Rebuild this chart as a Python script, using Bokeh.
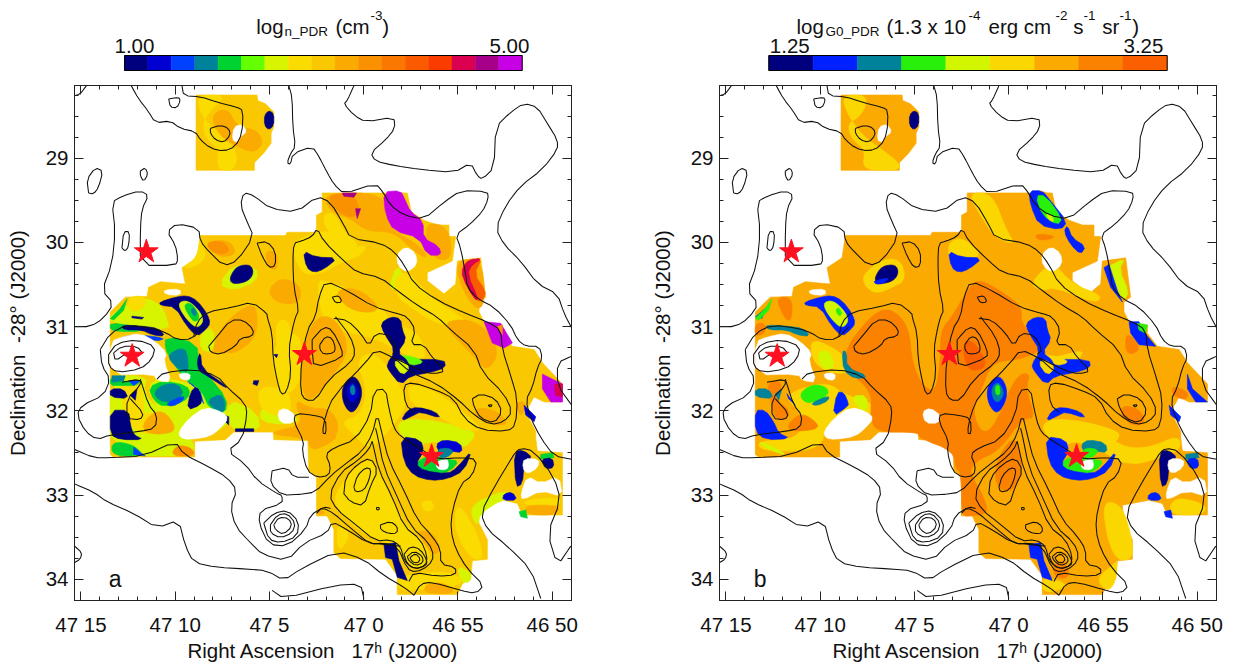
from bokeh.plotting import figure
from bokeh.layouts import column, row
from bokeh.models import Range1d, Label, LinearAxis, FixedTicker
from bokeh.core.properties import value
from bokeh.embed import file_html
from bokeh.resources import INLINE

# ---- colour levels (colour tables of the two maps)
n_bar_colors = ["#00007f", "#0000d2", "#0040ff", "#00829b", "#00d232", "#64ff00", "#d7f500", "#fadc00", "#fac800",
                "#faaa00", "#fa9100", "#fa7800", "#fa5a00", "#fa3c00", "#dc0050", "#a50087", "#c800e6"]
g_bar_colors = ["#00007f", "#0020ff", "#00829b", "#28f00a", "#d2f500", "#fad700", "#faaa00", "#fa8200", "#fa5f00"]
NAVY, BLUE, BRIGHT, TEAL, GREEN, LIME, YG, YEL, GOLD, OY, ORG, DORG, RORG, RED, CRIM, PURP, MAG = n_bar_colors
G_NAVY, G_BLUE, G_TEAL, G_GREEN, G_YG, G_YEL, G_OY, G_ORG, G_DORG = g_bar_colors

# ---- map outline and features, in map pixel columns/rows (converted to RA/Dec by the map's WCS below)
top_block = [(407,283),(590,283),(592,300),(615,310),(640,335),(640,380),(632,400),(632,430),(610,460),(582,490),(582,513),(407,513)]
footprint = [(785,582),(1040,582),(1052,640),(1090,665),(1130,680),(1165,680),(1165,715),(1185,715),(1175,790),(1100,825),(1100,850),(1150,890),
 (1185,860),(1190,790),(1260,780),(1275,900),(1255,915),(1255,945),(1270,975),(1325,985),(1325,1010),(1355,1050),(1420,1060),(1445,1100),
 (1505,1165),(1505,1220),(1450,1220),(1420,1205),(1395,1250),(1425,1310),(1425,1330),(1430,1370),(1505,1375),(1505,1565),(1385,1565),(1370,1530),
 (1330,1520),(1250,1535),(1255,1590),(1280,1640),(1280,1700),(1235,1705),(1230,1760),(1205,1775),(1190,1808),(1010,1808),(1010,1750),(975,1700),
 (840,1698),(820,1680),(820,1610),(800,1568),(768,1568),(768,1450),(745,1430),(742,1338),(640,1335),(638,1312),(520,1312),(495,1335),(403,1340),
 (403,1388),(160,1388),(150,1380),(150,945),(195,900),(260,898),(265,870),(300,853),(375,860),(365,810),(410,780),(420,712),(675,712),(680,702),
 (768,702),(768,650),(785,640)]

# sub-images of the map: columns/rows counted from the corner of each part
def W(pts):
    return [(x + 120, y + 870) for x, y in pts]
def C(pts):
    return [(x + 600, y + 960) for x, y in pts]
def S(pts):
    return [(x + 720, y + 1320) for x, y in pts]

# holes
hole_top = [(520,380),(545,372),(560,395),(540,410),(530,428),(515,420)]
hole_ring = [(1008,770),(1035,745),(1065,765),(1070,800),(1040,825),(1012,805)]
hole_star = W([(30,165),(70,150),(120,140),(165,165),(200,200),(190,225),(215,290),(170,285),(160,265),(30,268)])
hole_mid = W([(235,262),(270,262),(268,285),(240,280)])
hole_nw = W([(190,8),(240,5),(240,25),(195,22)])
hole_south = W([(235,440),(265,400),(315,365),(365,380),(385,400),(360,430),(330,455),(270,465),(240,460)])
hole_small = C([(50,290),(75,278),(105,300),(100,325),(60,325)])
hole_starb = S([(405,85),(440,70),(445,100),(430,108),(410,105)])
hole_east1 = S([(670,72),(715,75),(712,100),(680,120),(665,100)])
hole_east2 = S([(680,125),(720,150),(775,125),(785,190),(720,170),(665,200),(660,180)])

# features seen in both maps
spot_top = [(612,345),(625,330),(640,340),(640,375),(625,390),(612,375)]
spot_one = [(510,835),(530,805),(570,800),(580,825),(565,850),(530,860),(510,855)]
hat_outer = [(728,758),(765,778),(832,780),(790,815),(760,825),(738,810)]
ring_outer = W([(178,45),(225,30),(260,25),(290,40),(320,80),(330,110),(315,130),(290,150),(260,120),(225,60),(180,55)])
ring_inner = W([(235,45),(265,40),(300,75),(310,105),(290,125),(265,105),(240,70)])
ring_core = W([(250,55),(270,45),(295,80),(295,100),(280,105),(265,85)])
ring_eye = W([(270,70),(280,60),(290,80),(282,90)])
snake = C([(360,20),(390,0),(420,5),(425,40),(437,70),(410,110),(440,130),(550,130),(555,155),(510,170),(450,180),(420,208),(385,165),(378,145),(405,105),(370,50)])
snake_in = C([(398,140),(420,130),(450,155),(425,180)])
snake_top = C([(420,115),(470,125),(490,140),(450,150),(435,125)])
oval = C([(243,225),(260,190),(285,180),(305,220),(300,260),(275,298),(250,270)])
oval_in = C([(255,225),(275,195),(295,225),(290,250),(270,265)])
oval_core = C([(268,215),(280,205),(285,235),(272,240)])
star_cres = S([(300,5),(360,15),(370,50),(345,90),(370,110),(440,120),(470,100),(515,45),(490,110),(440,135),(390,140),(340,125),(310,85)])
star_up = S([(405,30),(430,15),(480,25),(485,55),(450,50),(420,60)])
star_green = S([(345,85),(380,65),(440,75),(475,80),(450,110),(400,125),(365,110)])
star_teal = S([(410,45),(440,40),(460,50),(440,70),(415,70)])
star_glow = C([(410,330),(440,310),(540,320),(640,350),(640,370),(610,400),(580,385),(500,380),(470,400),(420,360)])
band_north = C([(420,320),(440,285),(470,275),(525,290),(540,310),(480,290),(460,300)])
north_patch = [(968,578),(1020,575),(1032,600),(1050,640),(1088,668),(1088,720),(1135,745),(1142,772),(1100,772),(1075,718),(1000,698),(975,650)]
east_red = [(1225,790),(1265,780),(1240,830),(1275,880),(1270,905),(1250,915),(1215,850)]
east_crim = [(1205,810),(1225,785),(1265,782),(1235,800),(1220,830),(1255,910),(1240,905),(1205,840)]
ne_corner = C([(670,15),(720,20),(755,80),(730,95),(695,80)])
ne_red = C([(710,30),(725,25),(725,55)])
se_corner = [(1445,1135),(1505,1165),(1505,1220),(1470,1220),(1445,1180)]
se_red = [(1480,1165),(1505,1165),(1505,1205),(1485,1200)]
sliver = [(1390,1230),(1425,1265),(1420,1280),(1395,1260)]
east_block = S([(640,50),(670,48),(695,70),(670,90),(665,150),(645,160)])
east_spot = S([(720,75),(755,70),(760,100),(735,105)])
east_green = S([(720,60),(755,55),(760,70),(720,75)])
east_low = S([(610,180),(635,175),(650,200),(605,200)])
east_tip = S([(655,235),(675,230),(680,255),(660,250)])
lower_spot = S([(250,335),(285,330),(295,385),(320,445),(290,435),(275,380),(255,375)])
nw_sliver = W([(30,95),(60,65),(80,35),(70,70),(40,100)])
north_sliver = [(885,630),(900,630),(890,660)]
north_top = [(845,582),(888,582),(880,595),(850,592)]
w_navy_a = W([(30,375),(85,375),(90,420),(100,450),(130,465),(60,465),(30,450)])
w_navy_b = W([(30,310),(70,310),(85,340),(30,335)])
w_navy_c = W([(90,330),(110,310),(105,345)])
w_arc = W([(65,115),(120,118),(175,125),(195,150),(155,145),(125,130),(70,130)])
w_core = W([(260,375),(270,320),(290,300),(305,340),(300,360)])
w_edge = W([(290,225),(300,195),(305,250),(370,295),(380,310),(320,270),(295,255)])
w_spots = [W([(460,285),(475,285),(470,300),(458,295)]), W([(520,205),(532,205),(528,215)]), W([(370,390),(385,395),(385,420),(375,410)]),
           W([(405,432),(460,432),(460,440),(405,440)]), W([(95,88),(130,92),(125,97),(95,93)])]

# density map levels
n_yg = [W([(30,270),(140,270),(130,320),(170,370),(230,390),(240,440),(280,470),(280,515),(30,515)]),
        W([(140,300),(190,270),(370,330),(390,440),(230,440),(170,370)]),
        W([(30,85),(90,50),(135,30),(190,60),(210,140),(30,108)]),
        W([(380,340),(470,380),(480,440),(385,440)]),
        W([(300,140),(340,120),(340,200),(300,190)]),
        C([(0,280),(50,270),(120,310),(80,330),(0,320)]),
        C([(40,100),(90,130),(95,170),(50,190),(40,130)]),
        [(985,870),(1010,800),(1030,840),(1010,880)],
        [(475,860),(520,800),(590,810),(590,850),(520,880)],
        star_glow,
        S([(520,215),(540,200),(610,170),(650,190),(600,200),(540,240),(530,280),(510,240)]),
        S([(470,400),(510,420),(510,450),(480,450)])]
n_yellow = [[(407,283),(500,283),(450,330),(425,370),(440,420),(475,445),(470,513),(525,513),(530,450),(475,400),(425,350)],
            [(690,735),(770,700),(810,700),(870,750),(920,740),(905,770),(850,790),(780,830),(720,830)],
            [(785,650),(820,640),(850,700),(900,745),(860,745),(800,700)],
            [(1000,840),(1040,820),(1110,900),(1200,960),(1250,1000),(1120,980),(1050,930),(1010,900)],
            [(770,850),(795,850),(880,880),(960,930),(1000,980),(1080,1010),(1100,1110),(990,1050),(930,1020),(820,1000),(780,950)],
            S([(90,190),(200,60),(240,120),(300,260),(390,350),(380,410),(310,400),(270,330),(200,310),(130,250)]),
            C([(285,130),(345,105),(420,210),(440,270),(400,330),(330,410),(280,360),(240,320),(300,300),(320,220)]),
            C([(440,200),(530,230),(620,300),(670,350),(600,345),(530,300),(450,270)]),
            [(630,1060),(690,1010),(720,1020),(730,1130),(690,1200),(650,1180)],
            S([(470,200),(530,300),(550,380),(510,380),(460,290)]),
            S([(290,440),(350,420),(460,420),(500,460),(290,480)]),
            S([(110,270),(150,300),(125,350),(110,340)]),
            S([(360,205),(395,200),(400,230),(370,235)]),
            S([(675,200),(770,190),(785,215),(670,215)]),
            [(420,712),(440,780),(400,810),(365,810),(410,780)],
            W([(60,290),(120,285),(130,345),(130,390),(165,375),(170,440),(120,450),(75,400),(65,340)]),
            W([(470,300),(570,310),(570,400),(480,380)]),
            W([(525,100),(570,100),(570,200),(530,200)]),
            W([(80,30),(135,25),(135,60),(90,80)])]
n_oy = [[(450,345),(500,320),(530,380),(590,390),(610,430),(580,460),(530,440),(480,410)],
        [(440,730),(505,725),(530,765),(490,780),(450,760)],
        [(612,760),(650,760),(650,820),(625,810)],
        [(785,582),(968,582),(975,660),(1000,700),(1075,740),(1105,785),(1060,760),(1000,700),(920,700),(870,660),(810,640)],
        [(1090,670),(1165,685),(1175,790),(1110,780)],
        [(1180,790),(1260,780),(1275,900),(1255,945),(1210,890)],
        C([(560,10),(650,10),(720,100),(680,170),(640,120),(560,40)]),
        [(620,880),(660,840),(720,860),(720,920),(650,920)],
        [(820,880),(890,870),(960,930),(930,950),(860,935)],
        W([(370,110),(440,55),(470,60),(470,150),(410,200),(370,200),(330,200)]),
        C([(160,0),(225,0),(270,100),(210,190),(150,260),(125,230),(120,120)]),
        C([(100,250),(150,280),(210,280),(240,340),(200,400),(130,370),(40,360),(40,350),(130,330)]),
        S([(350,290),(400,300),(420,350),(400,370),(370,330)]),
        S([(375,455),(430,450),(470,485),(370,485)]),
        S([(20,0),(120,0),(80,30),(30,50)]),
        S([(50,225),(80,240),(50,245)]),
        S([(670,215),(775,215),(770,245),(680,245)]),
        [(1230,1240),(1300,1240),(1350,1290),(1280,1290)],
        [(1360,1220),(1400,1220),(1380,1270)],
        W([(130,410),(170,375),(205,390),(230,440),(170,450),(130,440)])]
n_org = [[(800,585),(880,585),(900,640),(870,660),(820,630)],
         [(440,730),(490,730),(510,760),(480,770),(445,755)],
         W([(210,515),(230,480),(275,490),(285,515)])]
n_west = [(W([(35,470),(100,480),(130,515),(35,515)]), GREEN, 2),
          (W([(100,488),(135,515),(100,510)]), BRIGHT, 0),
          (W([(195,150),(290,170),(295,235),(320,265),(380,340),(375,385),(330,375),(300,310),(255,285),(215,225),(195,190)]), GREEN, 1),
          (W([(145,305),(190,285),(260,300),(270,325),(250,350),(190,365),(160,345)]), GREEN, 1),
          (W([(205,205),(240,185),(260,195),(265,260),(235,250),(210,225)]), TEAL, 1),
          (W([(160,320),(190,295),(235,295),(250,330),(210,352),(175,345)]), TEAL, 1),
          (W([(195,355),(250,330),(250,345),(215,365)]), BRIGHT, 1),
          (W([(320,345),(360,325),(375,350),(370,385),(340,370)]), TEAL, 1),
          (W([(265,290),(300,320),(310,355),(300,335),(280,300)]), BRIGHT, 0),
          (W([(30,108),(100,118),(125,135),(60,135),(30,130)]), GREEN, 1),
          (W([(40,170),(70,150),(120,145),(195,155),(170,165),(120,150),(70,160)]), BRIGHT, 1),
          (W([(30,275),(65,272),(70,290),(120,285),(110,300),(60,300),(30,300)]), GREEN, 1),
          (W([(35,270),(75,270),(70,285),(35,290)]), TEAL, 0),
          (W([(85,285),(120,285),(100,300)]), BRIGHT, 0)]

def smooth(pts, n=2):
    out = pts
    for _ in range(n):
        new = []
        for i in range(len(out)):
            a, b = out[i], out[(i + 1) % len(out)]
            new.append((.75*a[0]+.25*b[0], .75*a[1]+.25*b[1]))
            new.append((.25*a[0]+.75*b[0], .25*a[1]+.75*b[1]))
        out = new
    return out

def smooth_open(pts, n=2):
    out = pts
    for _ in range(n):
        new = [out[0]]
        for a, b in zip(out[:-1], out[1:]):
            new.append((.75*a[0]+.25*b[0], .75*a[1]+.25*b[1]))
            new.append((.25*a[0]+.75*b[0], .25*a[1]+.75*b[1]))
        new.append(out[-1])
        out = new
    return out

density_layers = [(footprint, GOLD, 0), (top_block, GOLD, 0)]
density_layers += [(s, YG, 1) for s in n_yg] + [(s, YEL, 2) for s in n_yellow] + [(s, OY, 2) for s in n_oy] + [(s, ORG, 2) for s in n_org]
density_layers += [(north_patch, MAG, 1), (north_top, PURP, 0), (north_sliver, PURP, 0), (east_red, RORG, 1), (east_crim, CRIM, 1), (ne_corner, MAG, 0), (ne_red, ORG, 0), (se_corner, MAG, 0), (se_red, CRIM, 0)]
density_layers += n_west
density_layers += [(spot_top, NAVY, 1), (spot_one, NAVY, 2), (hat_outer, NAVY, 1), (ring_outer, NAVY, 1), (ring_inner, YG, 2), (ring_core, GREEN, 2), (ring_eye, TEAL, 2),
                   (snake, NAVY, 1), (snake_in, YG, 1), (snake_top, LIME, 1), (oval, NAVY, 2), (oval_in, BLUE, 2), (oval_core, TEAL, 1),
                   (w_navy_a, NAVY, 1), (w_navy_b, NAVY, 1), (w_navy_c, NAVY, 0), (w_arc, NAVY, 1), (w_core, NAVY, 1), (w_edge, NAVY, 1), (nw_sliver, GREEN, 0)]
density_layers += [(s, NAVY, 0) for s in w_spots]
density_layers += [(band_north, NAVY, 1), (sliver, BLUE, 0), (east_block, NAVY, 1), (east_green, GREEN, 0), (east_spot, NAVY, 1), (east_low, BLUE, 1), (east_tip, GREEN, 0), (lower_spot, NAVY, 0),
                   (star_green, GREEN, 1), (star_cres, NAVY, 1), (star_up, BLUE, 1), (star_teal, TEAL, 1)]

# radiation field map levels
g_yellow = [[(407,283),(490,283),(470,345),(425,370),(440,420),(480,450),(470,513),(582,513),(582,490),(530,450),(475,410),(430,350)],
            [(470,830),(540,780),(590,790),(600,850),(560,870),(515,890),(480,870)],
            [(785,582),(860,582),(900,690),(930,740),(870,720),(830,660)],
            [(725,735),(770,715),(830,770),(790,790),(735,800)],
            [(970,860),(1040,790),(1100,860),(1190,895),(1170,920),(1050,870),(1010,880)],
            S([(670,215),(700,190),(785,215),(770,245),(680,245)]),
            [(1190,1520),(1250,1535),(1280,1640),(1280,1700),(1235,1705),(1205,1640)],
            star_glow,
            [(1130,1300),(1200,1320),(1260,1360),(1330,1360),(1420,1320),(1425,1370),(1330,1400),(1290,1410),(1230,1400),(1195,1370),(1080,1330)],
            [(1230,1710),(1235,1705),(1230,1770),(1205,1800),(1170,1760)],
            [(1010,1750),(1100,1780),(1010,1808)],
            [(1000,1095),(1060,1080),(1140,1060),(1110,1100),(1020,1140)],
            W([(130,330),(160,310),(250,290),(300,330),(380,350),(380,390),(330,370),(270,400),(235,440),(235,470),(190,500),(50,500),(35,470),(130,465),(170,440),(170,390),(130,345)]),
            W([(195,150),(300,205),(290,240),(310,262),(250,262),(200,225)])]
g_org = [[(420,1070),(445,1020),(510,945),(560,935),(610,990),(620,1100),(650,1170),(690,1190),(705,1100),(705,1000),(740,960),(790,870),(820,845),(885,880),(950,930),(945,980),(1000,1030),(1010,1060),(945,1090),(880,1095),(850,1120),(825,1190),(800,1250),(830,1320),(870,1290),(930,1140),(975,1130),(960,1180),(990,1270),(950,1270),(880,1370),(810,1400),(790,1440),(750,1430),(745,1370),(640,1330),(640,1312),(510,1312),(495,1260),(500,1190),(425,1120)],
         [(745,1370),(790,1400),(800,1450),(830,1500),(850,1560),(800,1568),(768,1568),(768,1450)],
         [(880,1380),(930,1320),(950,1410),(940,1470),(900,1500),(865,1460)],
         [(1040,1725),(1065,1700),(1090,1730),(1085,1760),(1050,1755)],
         [(1245,1230),(1300,1240),(1320,1280),(1290,1295),(1250,1270)],
         [(985,705),(1060,715),(1000,730)],
         [(1400,1170),(1450,1190),(1440,1215),(1400,1200)],
         [(1260,1000),(1310,1060),(1260,1080)],
         W([(90,30),(140,30),(140,100),(120,100)]),
         W([(30,110),(60,110),(60,140),(30,150)]),
         W([(65,290),(115,285),(90,345),(130,370),(130,400),(90,405),(75,340)]),
         W([(130,415),(165,385),(200,400),(225,430),(165,440),(130,435)])]
g_dorg = [[(770,1040),(800,1030),(840,1090),(835,1120),(785,1125)]]
g_west = [(W([(215,200),(250,190),(270,245),(230,250)]), G_YG, 1),
          (W([(320,330),(365,330),(365,380),(335,365)]), G_YG, 1),
          (W([(165,320),(205,295),(245,305),(250,330),(195,355),(170,345)]), G_GREEN, 2),
          (W([(195,355),(250,330),(250,345),(215,362)]), G_TEAL, 1),
          (W([(262,395),(275,320),(295,320),(310,355),(305,365)]), G_BLUE, 1),
          (W([(30,375),(60,375),(85,410),(100,445),(135,462),(60,465),(30,440)]), G_BLUE, 1),
          (W([(30,310),(70,310),(85,340),(30,335)]), G_TEAL, 1),
          (W([(90,325),(110,310),(100,345)]), G_TEAL, 0),
          (W([(125,325),(150,360),(130,340)]), G_BLUE, 0),
          (W([(60,115),(120,118),(175,125),(195,150),(155,145),(125,130),(70,130)]), G_TEAL, 1),
          (W([(290,195),(303,195),(305,245),(370,272),(330,280),(295,255)]), G_TEAL, 1),
          (W([(30,90),(60,65),(50,95)]), G_TEAL, 0),
          (W([(35,470),(70,480),(130,515),(80,500)]), G_YG, 1)]

radiation_layers = [(footprint, G_OY, 0), (top_block, G_OY, 0)]
radiation_layers += [(s, G_YEL, 2) for s in g_yellow] + [(s, G_ORG, 2) for s in g_org] + [(s, G_DORG, 2) for s in g_dorg] + g_west
radiation_layers += [(north_patch, G_OY, 1),
                     ([(970,575),(1010,575),(1030,600),(1085,670),(1065,695),(1000,680),(975,620)], G_BLUE, 1),
                     ([(990,590),(1020,590),(1070,660),(1055,680),(1010,650)], G_GREEN, 1),
                     ([(1020,645),(1040,650),(1045,670),(1030,665)], G_YG, 1),
                     ([(1085,680),(1100,720),(1140,745),(1125,770),(1095,740),(1075,700)], G_BLUE, 1),
                     ([(1200,810),(1260,780),(1240,815),(1270,885),(1255,910),(1215,860)], G_YG, 1),
                     ([(1195,810),(1210,800),(1235,880),(1250,915),(1215,870)], G_BLUE, 0),
                     ([(1270,975),(1300,975),(1310,1000),(1350,1050),(1300,1045),(1275,1010)], G_BLUE, 0),
                     ([(1295,980),(1325,985),(1320,1010),(1300,1000)], G_GREEN, 0),
                     ([(1445,1135),(1460,1180),(1505,1220),(1470,1220),(1445,1180)], G_BLUE, 0),
                     (spot_top, G_NAVY, 1), (spot_one, G_NAVY, 2), ([(505,850),(555,840),(530,860),(510,860)], G_BLUE, 1),
                     (hat_outer, G_BLUE, 1), (ring_outer, G_BLUE, 1), (ring_inner, G_YG, 2), (ring_core, G_YG, 2), (ring_eye, G_GREEN, 2),
                     (snake, G_BLUE, 1), (snake_in, G_YEL, 1), (snake_top, G_YEL, 1), (oval, G_BLUE, 2), (oval_in, G_TEAL, 2), (oval_core, G_GREEN, 1),
                     (nw_sliver, G_GREEN, 0), (band_north, G_BLUE, 1), (sliver, G_BLUE, 0),
                     (east_block, G_NAVY, 1), (east_green, G_TEAL, 0), (east_spot, G_BLUE, 1), (east_low, G_BLUE, 1), (east_tip, G_BLUE, 0), (lower_spot, G_BLUE, 0),
                     (star_green, G_GREEN, 1), (star_cres, G_BLUE, 1), (star_up, G_TEAL, 1), (star_teal, G_GREEN, 1)]

holes = [hole_top, hole_ring, hole_star, hole_mid, hole_nw, hole_south, hole_small, hole_starb, hole_east1, hole_east2]

# contour lines
contours = [
 [(213,255),(235,295),(262,330),(285,368),(330,362),(360,385),(405,395),(420,420),(450,445),(490,455),(525,440),(545,400),(548,330),(530,320),(470,305),(420,288),(370,285),(365,255)],
 [(685,255),(695,290),(697,380),(705,440),(690,462),(680,490),(690,495),(697,462),(755,440),(775,470),(800,520),(820,555),(850,585),(945,553),(968,580),(990,620),(1030,650),(1090,662),(1150,610),(1200,575),(1280,577),(1283,600),(1265,640),(1225,680),(1185,710),(1200,750),(1215,830),(1220,870),(1250,905),(1300,930),(1350,985),(1370,1030),(1395,1050),(1435,1050),(1445,1085),(1430,1115),(1415,1175),(1395,1215),(1410,1270),(1440,1330),(1480,1385),(1533,1395)],
 [(880,255),(860,300),(850,310),(880,345),(915,365),(1000,350),(1003,385),(975,420),(930,460),(945,485),(1000,498),(1080,510),(1180,520),(1230,490),(1250,530),(1265,540),(1300,505),(1305,380),(1350,335),(1390,308),(1430,320),(1460,370),(1490,420),(1490,450),(1445,510),(1380,560),(1335,620),(1305,690),(1330,740),(1380,790),(1430,860),(1490,890),(1510,950),(1533,995)],
 [(43,285),(60,280),(78,255)],
 [(85,582),(80,540),(105,505),(128,515),(115,565),(100,585),(85,582)],
 [(240,515),(255,505),(263,525),(250,547),(240,530),(240,515)],
 [(325,295),(355,290),(360,300),(350,322),(330,320),(325,295)],
 [(185,750),(190,700),(208,700),(205,745),(195,760),(185,750)],
 [(590,735),(620,730),(645,760),(645,805),(625,810),(605,775),(590,735)],
 [(43,990),(90,990),(130,965),(160,920),(125,880),(155,800),(165,700),(155,610),(185,592),(240,575),(265,590),(245,630),(240,690),(240,803),(345,803),(353,785),(345,740),(320,700),(350,675),(415,690),(420,730),(445,760),(490,805),(530,790),(580,715),(560,670),(540,620),(550,580),(580,590),(630,630),(710,640),(770,592),(810,610),(850,680),(870,720),(960,735),(1000,760),(1030,800),(1060,860),(1130,910),(1215,950),(1280,975),(1320,1000),(1325,1060),(1350,1140),(1370,1210),(1365,1290),(1340,1310),(1260,1305),(1210,1270),(1180,1210),(1130,1185),(1055,1160),(1028,1170),(1035,1230),(1060,1250)],
 [(450,385),(480,375),(505,385),(510,405),(490,428),(465,420),(450,400),(450,385)],
 [(400,1020),(410,975),(440,945),(520,930),(575,915),(620,950),(620,960),(635,1010),(638,1090),(650,1155),(662,1198),(678,1190),(692,1135),(685,1060),(695,1000),(705,960),(715,940),(700,870),(697,790),(700,735),(720,730),(755,715),(770,690),(790,730),(850,790),(890,825),(960,840),(1010,880),(1070,925),(1130,960),(1170,1000),(1240,1060),(1265,1130),(1330,1195),(1355,1250),(1330,1280),(1290,1290),(1240,1260),(1195,1215),(1130,1165),(1050,1130),(1000,1085),(945,1060),(915,1100),(820,1200),(795,1260),(785,1315),(797,1318),(795,1270),(760,1260),(705,1255),(700,1280),(730,1340),(725,1370),(740,1430),(770,1450),(805,1445),(810,1415),(795,1380),(820,1360),(885,1335),(930,1260),(940,1185),(975,1180),(985,1240),(1000,1300),(1020,1325),(1090,1370),(1130,1395),(1200,1390),(1250,1395),(1235,1445),(1200,1470),(1175,1550),(1170,1610),(1185,1670),(1220,1730),(1270,1780),(1245,1805),(1200,1795),(1115,1770),(1080,1775),(1060,1810)],
 [(825,960),(870,1020),(885,1070),(870,1100),(805,1150),(765,1215),(735,1215),(720,1190),(722,1100),(740,1000),(765,960),(775,900),(795,850),(860,880),(940,930),(1010,950),(1040,960),(1065,1000),(1050,1045),(1090,1045),(1115,1085),(1155,1125),(1120,1135),(1080,1125),(1000,1085)],
 [(820,965),(860,970),(900,1010),(925,1050),(945,1010),(985,1015),(1010,1060),(995,1075)],
 C([(155,70),(190,30),(215,40),(245,100),(245,125),(160,157),(155,100),(155,70)]),
 C([(178,85),(195,60),(215,65),(225,95),(220,110),(190,115),(178,100),(178,85)]),
 [(815,900),(835,895),(845,915),(825,918),(815,900)],
 [(445,1050),(470,1020),(510,970),(550,970),(580,1000),(575,1020),(540,1025),(525,1050),(480,1075),(450,1068),(445,1050)],
 [(120,1060),(150,1010),(200,985),(280,995),(320,1010),(350,1030),(395,1028),(430,990)],
 [(120,1060),(125,1110),(150,1150),(130,1200),(65,1230),(50,1260),(75,1310),(110,1335),(150,1320),(240,1310),(285,1300),(290,1260),(265,1230),(240,1150)],
 [(145,1075),(170,1040),(230,1030),(285,1050),(275,1090),(240,1120),(170,1130),(145,1110),(145,1075)],
 [(160,1070),(185,1050),(230,1050),(250,1075),(200,1070),(165,1095),(160,1070)],
 [(185,1160),(240,1150),(240,1170),(200,1210),(200,1270),(240,1275),(250,1255),(210,1210)],
 [(290,1150),(310,1130),(400,1120),(470,1140),(500,1175),(555,1225),(560,1260),(545,1335),(500,1370),(555,1410),(590,1460),(650,1500),(665,1505),(665,1530),(600,1550),(595,1590),(625,1655),(680,1660),(735,1610),(750,1565),(790,1540),(810,1545)],
 S([(0,182),(45,175),(90,125),(140,85),(185,50),(215,0),(230,-65),(245,0),(265,80),(310,170),(350,260),(395,310),(420,350),(420,395),(465,405),(465,428),(410,432),(340,420),(325,448)]),
 S([(48,240),(65,222),(100,240),(150,285),(210,335),(250,330),(290,340),(320,410),(345,420),(385,400),(400,370),(385,330),(330,280),(290,190),(250,100),(230,0),(225,-20)]),
 S([(215,20),(235,110),(275,190),(310,280),(360,320),(380,370),(375,400),(340,410),(310,385),(300,340),(270,320),(225,325),(160,270),(110,230),(85,185),(120,115),(170,80),(205,45),(215,20)]),
 S([(130,180),(135,130),(170,90),(210,70),(232,110),(210,155),(190,218),(150,205),(130,180)]),
 S([(160,160),(170,125),(195,100),(212,105),(205,140),(190,170),(165,175),(160,160)]),
 S([(228,222),(236,222),(236,229),(228,229),(228,222)]),
 S([(240,275),(270,265),(290,280),(290,300),(265,302),(240,290),(240,275)]),
 S([(310,365),(330,340),(360,350),(380,385),(375,400),(345,410),(320,395),(310,365)]),
 S([(320,372),(340,355),(365,370),(368,390),(345,400),(325,385),(320,372)]),
 S([(328,375),(345,362),(360,380),(350,392),(335,388),(328,375)]),
 [(635,1430),(680,1420),(700,1450),(745,1450)],
 [(635,1430),(630,1470),(665,1505),(720,1502)],
 [(610,1590),(640,1560),(680,1550),(715,1585),(710,1630),(660,1650),(625,1640),(610,1590)],
 [(630,1595),(650,1565),(680,1560),(705,1590),(695,1620),(660,1635),(630,1620),(630,1595)],
 [(640,1595),(655,1572),(685,1575),(695,1600),(668,1625),(645,1610),(640,1595)],
 [(1235,1210),(1260,1195),(1305,1210),(1325,1250),(1300,1285),(1260,1270),(1240,1235),(1235,1210)],
 [(1282,1230),(1295,1228),(1290,1236),(1282,1230)],
 [(43,1365),(100,1390),(150,1390),(250,1385),(345,1340),(370,1380),(440,1415),(500,1450),(530,1490),(510,1540),(525,1600),(570,1650),(605,1685),(680,1705),(730,1650),(800,1620),(815,1585),(860,1610),(920,1650),(970,1655),(1020,1660)],
 [(43,1470),(100,1495),(140,1525),(220,1560),(290,1605),(355,1580),(375,1660),(400,1710),(470,1725),(560,1730),(620,1735),(670,1765),(720,1730),(830,1675),(910,1700),(970,1750),(1030,1785),(1060,1810)],
 [(635,1795),(670,1820),(820,1780),(900,1775),(910,1820)],
 S([(640,60),(660,40),(700,50),(760,130),(780,200),(740,300),(770,400),(810,340)]),
 S([(640,60),(580,160),(540,240),(560,290),(620,340),(690,410),(720,500)]),
 [(1533,1080),(1490,1100),(1490,1170),(1533,1230)],
 [(43,1660),(65,1680),(60,1700),(43,1710)],
]

# map WCS: column/row to RA seconds (offset from 47m 0s) and Dec arcmin
def ra_of(col):
    return 15 - (col - 62) / 56.5
def dec_of(rw):
    return 29 + (rw - 476) / 257

star_ra = [11.53, 12.28, 3.15, -3.60]
star_dec = [30.11, 31.35, 31.33, 32.54]
ra_ticks = [15, 10, 5, 0, -5, -10]
ra_labels = ["47 15", "47 10", "47 5", "47 0", "46 55", "46 50"]
dec_ticks = [29, 30, 31, 32, 33, 34]
dec_labels = ["29", "30", "31", "32", "33", "34"]
FONT = "Liberation Sans"
FS = "20.5px"
SUB = "13.5px"

def panel(layers, width, left, right, letter):
    p = figure(width=width, height=589, x_range=Range1d(15.34, -11.02), y_range=Range1d(34.253, 28.136),
               min_border_left=left, min_border_right=right, min_border_top=10, min_border_bottom=55,
               toolbar_location=None, output_backend="svg")
    p.grid.visible = False
    p.outline_line_color = "black"
    xs, ys, cs = [], [], []
    for pts, col, n in layers:
        q = smooth(pts, n) if n else pts
        xs.append([ra_of(a) for a, _ in q]); ys.append([dec_of(b) for _, b in q]); cs.append(col)
    p.patches(xs, ys, fill_color=cs, line_color=cs, line_width=0.6)
    hx, hy = [], []
    for h in holes:
        q = smooth(h, 1)
        hx.append([ra_of(a) for a, _ in q]); hy.append([dec_of(b) for _, b in q])
    p.patches(hx, hy, fill_color="white", line_color="white", line_width=0.5)
    cx, cy = [], []
    for c in contours:
        q = smooth_open(c, 1)
        cx.append([ra_of(a) for a, _ in q]); cy.append([dec_of(b) for _, b in q])
    p.multi_line(cx, cy, line_color="#111111", line_width=1.05)
    p.scatter(star_ra, star_dec, marker="star", size=25, fill_color="#ff1020", line_color="#ff1020")
    ax = p.xaxis[0]
    ay = p.yaxis[0]
    ax.ticker = FixedTicker(ticks=ra_ticks, minor_ticks=list(range(-11, 16)))
    ax.major_label_overrides = dict(zip(ra_ticks, ra_labels))
    ay.ticker = FixedTicker(ticks=dec_ticks, minor_ticks=[28.25 + .25 * i for i in range(25)])
    ay.major_label_overrides = dict(zip(dec_ticks, dec_labels))
    ay.axis_label = "Declination\u00a0\u00a0-28\u00b0 (J2000)"
    ax.axis_label = "Right Ascension\u00a0\u00a0\u00a017\u02b0 (J2000)"
    for a in (ax, ay):
        a.major_label_text_font = FONT; a.major_label_text_font_size = FS; a.major_label_text_color = "#111111"
        a.axis_label_text_font = FONT; a.axis_label_text_font_size = FS; a.axis_label_text_font_style = "normal"
        a.axis_label_text_color = "#111111"
        a.major_tick_in = 9; a.major_tick_out = 0; a.minor_tick_in = 4; a.minor_tick_out = 0
        a.major_tick_line_color = a.minor_tick_line_color = a.axis_line_color = "#222222"
    ay.major_label_standoff = 6; ay.axis_label_standoff = 14
    ax.major_label_standoff = 12; ax.axis_label_standoff = 0
    for side, tick, minor in (("above", ra_ticks, ax.ticker.minor_ticks), ("right", dec_ticks, ay.ticker.minor_ticks)):
        extra = LinearAxis(ticker=FixedTicker(ticks=tick, minor_ticks=minor), major_label_overrides={t: "" for t in tick},
                           major_label_text_font_size="2px",
                           major_tick_in=9, major_tick_out=0, minor_tick_in=4, minor_tick_out=0,
                           major_tick_line_color="#222222", minor_tick_line_color="#222222", axis_line_color="#222222",
                           major_label_standoff=0)
        p.add_layout(extra, side)
    p.add_layout(Label(x=13.18, y=34.0, text=letter, text_font=FONT, text_font_size="23px", text_color="#111111",
                       text_align="center", text_baseline="alphabetic"))
    return p

def bar(colors, low, high, width, px_low, px_high, pieces):
    """Colour bar strip; the strip's frame lines up with the map frame below (columns 74 to 571)."""
    scale = (high - low) / (px_high - px_low)
    to_x = lambda px: low + (px - px_low) * scale
    p = figure(width=width, height=75, x_range=Range1d(to_x(74), to_x(571)), y_range=Range1d(75, 0),
               min_border=0, min_border_left=74, min_border_right=width - 571, toolbar_location=None, output_backend="svg")
    p.axis.visible = False
    p.grid.visible = False
    p.outline_line_color = None
    step = (high - low) / len(colors)
    edges = [low + i * step for i in range(len(colors) + 1)]
    p.quad(left=edges[:-1], right=edges[1:], bottom=70, top=55, fill_color=colors, line_color=colors, line_width=0.5)
    p.quad(left=[low], right=[high], bottom=[70], top=[55], fill_color=None, line_color="black", line_width=1)
    for px, base, text, size in pieces:
        p.text([to_x(px)], [base], text=[text], text_font=value(FONT), text_font_size=value(size), text_color="#111111",
               text_align="left", text_baseline="alphabetic")
    return p

title_a = [(114, 45.5, "1.00", FS), (489, 45.5, "5.00", FS), (255.7, 26, "log", FS), (284, 30.5, "n_PDR", SUB),
           (335, 26, "(cm", FS), (370, 15, "-3", SUB), (381.7, 26, ")", FS)]
title_b = [(124.3, 45.5, "1.25", FS), (478, 45.5, "3.25", FS), (151, 26, "log", FS), (180, 30.5, "G0_PDR", SUB),
           (241, 26, "(1.3 x 10", FS), (323, 15, "-4", SUB), (343, 26, "erg cm", FS), (410, 15, "-2", SUB),
           (427.7, 26, "s", FS), (438, 15, "-1", SUB), (456.7, 26, "sr", FS), (474, 15, "-1", SUB), (486.7, 26, ")", FS)]

bar_a = bar(n_bar_colors, 1.0, 5.0, 645, 124, 521.7, title_a)
bar_b = bar(g_bar_colors, 1.25, 3.25, 588, 123.3, 521.7, title_b)
panel_a = panel(density_layers, 645, 74, 74, "a")
panel_b = panel(radiation_layers, 588, 74, 17, "b")

page = row(column(bar_a, panel_a), column(bar_b, panel_b))
open("out.html", "w").write(file_html(page, INLINE))
